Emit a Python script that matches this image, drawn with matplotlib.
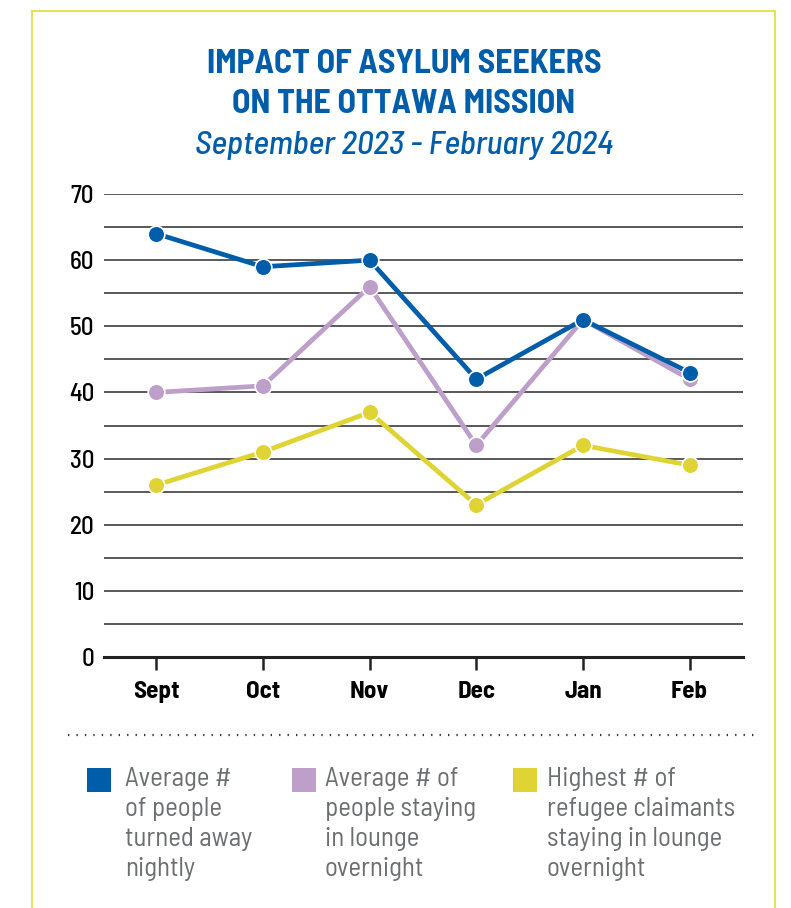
import matplotlib.pyplot as plt
from matplotlib.patches import Rectangle

months = ["Sept", "Oct", "Nov", "Dec", "Jan", "Feb"]
turned_away = [64, 59, 60, 42, 51, 43]
lounge_avg = [40, 41, 56, 32, 51, 42]
refugee_max = [26, 31, 37, 23, 32, 29]

series_labels = [
    "Average #\nof people\nturned away\nnightly",
    "Average # of\npeople staying\nin lounge\novernight",
    "Highest # of\nrefugee claimants\nstaying in lounge\novernight",
]

blue = "#005daa"
purple = "#bd9fca"
yellow = "#e0d434"

# condensed face; DejaVu Sans condensed if Barlow is missing
fam = ["Barlow Semi Condensed", "DejaVu Sans"]
cond = dict(family=fam, fontstretch="condensed")

fig = plt.figure(figsize=(7.91, 9.08), dpi=100)

# yellow frame, open at the bottom
frame = dict(transform=fig.transFigure, color="#e8df5a", lw=1.5)
fig.add_artist(plt.Line2D([32/791, 32/791], [0, 1 - 11/908], **frame))
fig.add_artist(plt.Line2D([775/791, 775/791], [0, 1 - 11/908], **frame))
fig.add_artist(plt.Line2D([32/791, 775/791], [1 - 11/908, 1 - 11/908], **frame))

fig.text(404/791, 1 - 64/908, "IMPACT OF ASYLUM SEEKERS", ha="center", va="center",
         fontsize=24.3, fontweight="bold", color=blue, **cond)
fig.text(404/791, 1 - 104/908, "ON THE OTTAWA MISSION", ha="center", va="center",
         fontsize=24.3, fontweight="bold", color=blue, **cond)
fig.text(404/791, 1 - 145/908, "September 2023 - February 2024", ha="center", va="center",
         fontsize=24, style="italic", fontweight="medium", color=blue, **cond)

ax = fig.add_axes([104/791, 1 - 657/908, (743 - 104)/791, (657 - 194)/908])
x = range(len(months))
for vals, c in [(refugee_max, yellow), (lounge_avg, purple), (turned_away, blue)]:
    ax.plot(x, vals, color=c, lw=3.4, marker="o", ms=12, mec="white", mew=1.2, zorder=3)

ax.set_xlim(-0.49, 5.5)
ax.set_ylim(0, 70)
for v in range(5, 71, 5):
    ax.axhline(v, color="#2b2b2b", lw=1.1, zorder=1)
ax.axhline(0, color="#222222", lw=2.2, zorder=2, clip_on=False)
for s in ax.spines.values():
    s.set_visible(False)
ax.set_yticks(range(0, 71, 10))
ax.set_yticklabels([str(v) for v in range(0, 71, 10)], fontsize=18, fontweight="medium", **cond)
ax.set_xticks(list(x))
ax.set_xticklabels(months, fontsize=18, fontweight="bold", **cond)
ax.tick_params(axis="y", length=0, pad=7)
ax.tick_params(axis="x", length=9, width=1.8, color="#222222", pad=8)

# dotted separator
fig.add_artist(plt.Line2D([68/791, 757/791], [1 - 735/908, 1 - 735/908], transform=fig.transFigure,
                          color="#333333", lw=1.6, ls=(0, (0.6, 3.2))))

# legend
for (sx, tx), c, lab in zip([(87, 125), (292, 325), (513, 547)], [blue, purple, yellow], series_labels):
    fig.add_artist(Rectangle((sx/791, 1 - 792/908), 24/791, 24/908, transform=fig.transFigure,
                             color=c, lw=0))
    fig.text(tx/791, 1 - 767/908, lab, ha="left", va="top", fontsize=19.4, fontweight="normal",
             color="#6d6e70", linespacing=1.32, **cond)

fig.savefig("out.png", dpi=100)
